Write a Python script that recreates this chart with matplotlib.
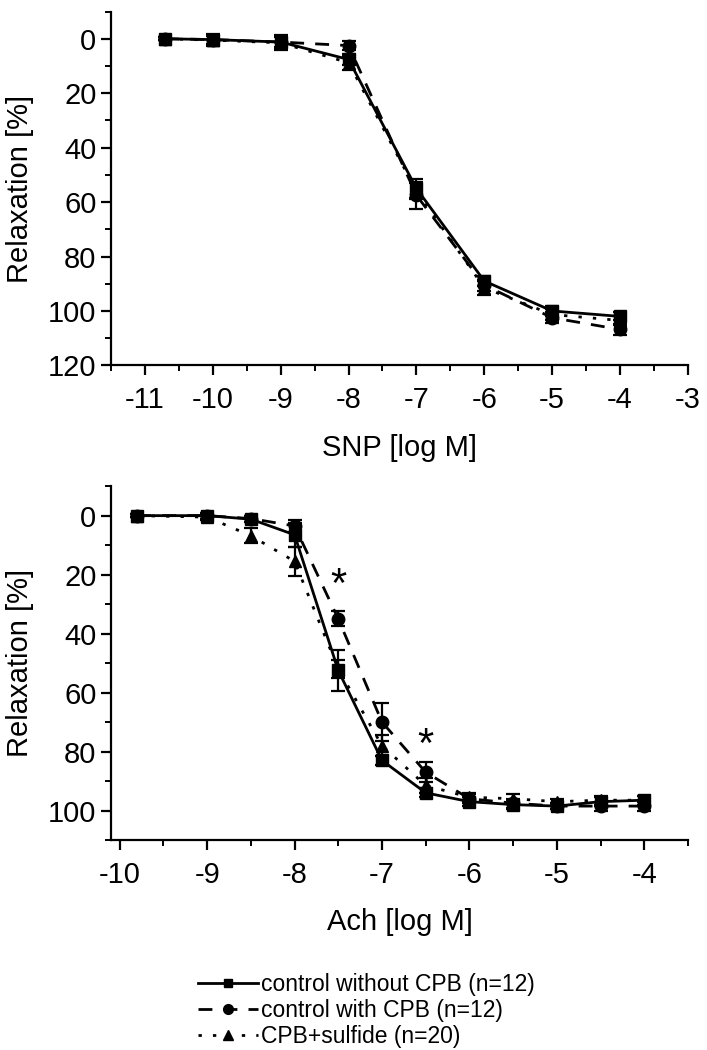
import numpy as np
import matplotlib
matplotlib.use("Agg")
import matplotlib.pyplot as plt
from matplotlib.ticker import MultipleLocator
from matplotlib.lines import Line2D

plt.rcParams.update({
    "font.family": ["Liberation Sans", "DejaVu Sans"],
    "font.size": 21,
    "axes.unicode_minus": False,
    "axes.linewidth": 1.6,
    "xtick.major.width": 1.6,
    "ytick.major.width": 1.6,
    "xtick.minor.width": 1.4,
    "ytick.minor.width": 1.4,
    "xtick.major.size": 7,
    "ytick.major.size": 7,
    "xtick.minor.size": 4,
    "ytick.minor.size": 4,
})

# --- SNP panel data (log M, relaxation %) ---
snp_x = [-10.7, -10, -9, -8, -7, -6, -5, -4]
snp_ctrl = [0, 0.3, 1.2, 7.6, 55, 89, 100, 102]
snp_ctrl_err = [0.5, 2, 2.5, 2, 3.5, 2, 2, 1.5]
snp_cpb = [0, 0.3, 1.2, 2.5, 57.5, 90.5, 102.5, 106.8]
snp_cpb_err = [0.5, 1.5, 2, 1.5, 5, 2, 2, 2]
snp_sulf = [0, 0.5, 1.5, 8.8, 56, 91.5, 101.3, 103.5]
snp_sulf_err = [0.5, 2, 2.5, 2.5, 3, 2.5, 2, 1.5]

# --- Ach panel data ---
ach_x = [-9.8, -9, -8.5, -8, -7.5, -7, -6.5, -6, -5.5, -5, -4.5, -4]
ach_ctrl = [0, 0, 1.2, 6.5, 52.5, 83, 94, 97, 98, 98.5, 97, 96.5]
ach_ctrl_err = [0.5, 1, 1, 4, 7, 1.5, 1.5, 1.5, 1.5, 1, 1.5, 1.5]
ach_cpb = [0, 0, 1, 3.5, 35, 70, 87, 96, 97.5, 98.5, 98.5, 98.5]
ach_cpb_err = [0.5, 1, 1, 2, 2.5, 6.5, 3.5, 1.5, 1.5, 1, 1.5, 1.5]
ach_sulf = [0, 0.5, 6.8, 15.5, 52, 78, 91.5, 95.5, 96, 97, 96.5, 96.5]
ach_sulf_err = [0.5, 1, 2.5, 5, 3, 3.5, 2.5, 1.5, 1.5, 1, 1.5, 1.5]

# significance marks
star_x = [-7.5, -6.5]
star_y = [24, 78]

labels = ["control without CPB (n=12)", "control with CPB (n=12)", "CPB+sulfide (n=20)"]

styles = [
    dict(marker="s", ms=8, ls="-"),
    dict(marker="o", ms=9, ls=(0, (5, 4))),
    dict(marker="^", ms=9, ls=(0, (1.2, 4))),
]

fig = plt.figure(figsize=(7.07, 10.5), dpi=100)
ax1 = fig.add_axes([0.157, 0.652, 0.816, 0.337])
ax2 = fig.add_axes([0.157, 0.200, 0.816, 0.337])


def draw(ax, x, series):
    # draw in reverse so the control curve sits on top
    for i in (2, 1, 0):
        y, err = series[i]
        ax.errorbar(x, y, yerr=err, color="black", lw=2, capsize=5,
                    capthick=1.6, elinewidth=1.6, zorder=3 + (2 - i),
                    **styles[i])


draw(ax1, snp_x, [(snp_ctrl, snp_ctrl_err), (snp_cpb, snp_cpb_err),
                  (snp_sulf, snp_sulf_err)])
draw(ax2, ach_x, [(ach_ctrl, ach_ctrl_err), (ach_cpb, ach_cpb_err),
                  (ach_sulf, ach_sulf_err)])

for sx, sy in zip(star_x, star_y):
    ax2.text(sx, sy, "*", ha="center", va="center", fontsize=30)

ax1.set_xlim(-11.5, -3)
ax1.set_ylim(120, -10)
ax1.set_yticks([0, 20, 40, 60, 80, 100, 120])
ax1.xaxis.set_major_locator(MultipleLocator(1))
ax1.set_xlabel("SNP [log M]", labelpad=14)

ax2.set_xlim(-10.1, -3.5)
ax2.set_ylim(110, -10)
ax2.set_yticks([0, 20, 40, 60, 80, 100])
ax2.xaxis.set_major_locator(MultipleLocator(1))
ax2.set_xlabel("Ach [log M]", labelpad=14)

for ax in (ax1, ax2):
    ax.spines["top"].set_visible(False)
    ax.spines["right"].set_visible(False)
    ax.xaxis.set_minor_locator(MultipleLocator(0.5))
    ax.yaxis.set_minor_locator(MultipleLocator(10))
    ax.set_ylabel("Relaxation [%]", labelpad=10)
    ax.tick_params(which="both", direction="out")
    ax.tick_params(axis="x", pad=8)

handles = [Line2D([], [], color="black", lw=2, markersize=s["ms"] - 2,
                  marker=s["marker"], ls=s["ls"]) for s in styles]
fig.legend(handles, labels, loc="upper left",
           bbox_to_anchor=(0.28, 0.073), frameon=False, fontsize=16.5,
           handlelength=2.6, handletextpad=0.15, labelspacing=0.12,
           borderpad=0, borderaxespad=0)

fig.savefig("out.png", dpi=100)
